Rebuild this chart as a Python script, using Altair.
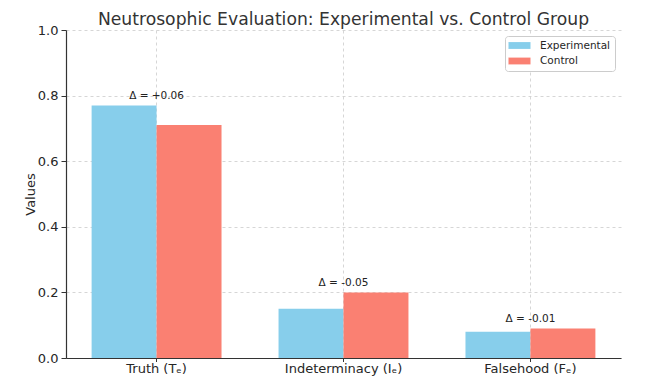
import altair as alt
import pandas as pd

categories = ["Truth (Tₑ)", "Indeterminacy (Iₑ)", "Falsehood (Fₑ)"]
groups = ["Experimental", "Control"]
experimental = [0.77, 0.15, 0.08]
control = [0.71, 0.20, 0.09]
delta_labels = ["Δ = +0.06", "Δ = -0.05", "Δ = -0.01"]
colors = ["#87CEEB", "#FA8072"]

rows = []
for c, e, k in zip(categories, experimental, control):
    rows.append({"category": c, "group": "Experimental", "value": e})
    rows.append({"category": c, "group": "Control", "value": k})
bars_df = pd.DataFrame(rows)

ann_df = pd.DataFrame({
    "category": categories,
    "label": delta_labels,
    "pos": [max(e, k) + 0.02 for e, k in zip(experimental, control)],
})

FONT = "DejaVu Sans"

xscale = alt.Scale(domain=categories, paddingInner=0.305, paddingOuter=0.137)

bars = alt.Chart(bars_df).mark_bar().encode(
    x=alt.X("category:N", sort=categories, scale=xscale,
            axis=alt.Axis(title=None, labelAngle=0, bandPosition=0.5, grid=True,
                          tickSize=3.5, labelPadding=1, labelFontSize=13)),
    xOffset=alt.XOffset("group:N", sort=groups,
                        scale=alt.Scale(domain=groups, paddingInner=0, paddingOuter=0)),
    y=alt.Y("value:Q", scale=alt.Scale(domain=[0, 1], nice=False),
            axis=alt.Axis(title="Values", values=[0, 0.2, 0.4, 0.6, 0.8, 1.0], format=".1f",
                          tickSize=5, labelPadding=3, labelFontSize=13,
                          titleFontSize=13, titleFontWeight="normal",
                          titleX=-36, titleY=164, titleAngle=-90,
                          titleAlign="center", titleBaseline="middle")),
    color=alt.Color("group:N", sort=groups,
                    scale=alt.Scale(domain=groups, range=colors),
                    legend=alt.Legend(title=None, orient="none", legendX=439, legendY=6,
                                      symbolType="M-2,-0.62L2,-0.62L2,0.62L-2,0.62Z",
                                      symbolSize=121, symbolStrokeWidth=0,
                                      symbolOffset=5, labelOffset=15,
                                      labelFontSize=10.5, labelFont=FONT, labelColor="#262626",
                                      rowPadding=4.5, padding=4,
                                      strokeColor="#cccccc", fillColor="white",
                                      cornerRadius=3)),
)

text = alt.Chart(ann_df).mark_text(baseline="bottom", align="center", fontSize=10.5, dy=2,
                                   font=FONT, color="#222222").encode(
    x=alt.X("category:N", sort=categories, scale=xscale),
    y=alt.Y("pos:Q"),
    text="label:N",
)

chart = alt.layer(bars, text).properties(
    width=555, height=328,
    padding={"left": 58, "top": 22, "right": 16, "bottom": 18},
    autosize=alt.AutoSizeParams(type="none"),
    title=alt.TitleParams("Neutrosophic Evaluation: Experimental vs. Control Group",
                          fontSize=17.2, font=FONT, fontWeight="normal", color="#333333",
                          anchor="middle", offset=-4.5),
).configure_axis(
    labelFont=FONT, titleFont=FONT, labelColor="#262626", titleColor="#262626",
    domainColor="#333333", tickColor="#333333", gridColor="#cccccc",
    gridDash=[3, 3], gridWidth=0.8, domainWidth=1.2,
).configure_view(stroke=None)

chart.save("out.html", embed_options={"renderer": "svg", "actions": False})
